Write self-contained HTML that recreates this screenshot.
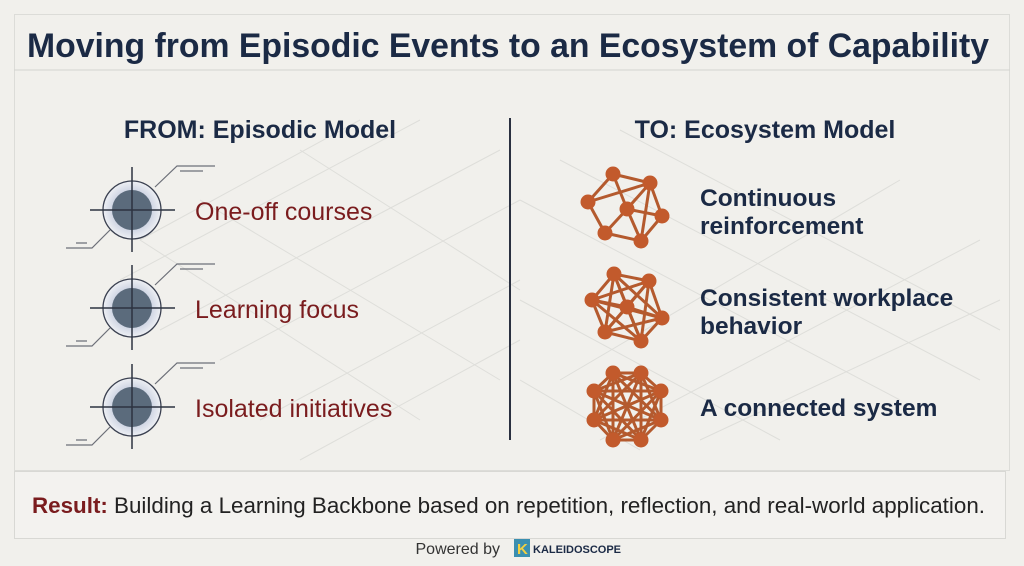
<!DOCTYPE html>
<html><head><meta charset="utf-8"><style>
html,body{margin:0;padding:0;width:1024px;height:566px;overflow:hidden;background:#f1f0ec;font-family:"Liberation Sans",sans-serif}
svg{position:absolute;left:0;top:0}
</style></head><body>
<svg width="1024" height="566" viewBox="0 0 1024 566" xmlns="http://www.w3.org/2000/svg">
<defs>
<radialGradient id="g" cx="0.5" cy="0.5" r="0.5"><stop offset="0.6" stop-color="#c8cfe0"/><stop offset="1" stop-color="#eef0f4"/></radialGradient>
</defs>
<rect x="0" y="0" width="1024" height="566" fill="#f1f0ec"/>
<g stroke="#dedeDA" stroke-width="1" fill="none">
<path d="M120 280 L420 120 M160 330 L500 150 M220 360 L520 200 M260 420 L520 280 M140 240 L360 120 M300 460 L520 340 M520 200 L900 400 M560 160 L980 380 M620 130 L1000 330 M520 300 L780 440 M520 380 L640 450"/>
<path d="M140 240 L420 420 M200 200 L500 380 M300 150 L520 290 M560 380 L900 180 M600 440 L980 240 M700 440 L1000 300"/>
</g>
<rect x="14.5" y="14.5" width="995" height="456" fill="none" stroke="#dcdcd8"/>
<line x1="14" y1="70" x2="1010" y2="70" stroke="#d4d4d0"/>
<text x="27" y="57" font-size="34" font-weight="bold" fill="#1b2a45" textLength="962" lengthAdjust="spacingAndGlyphs">Moving from Episodic Events to an Ecosystem of Capability</text>
<text x="260" y="138" text-anchor="middle" font-size="25" font-weight="bold" fill="#1b2a45">FROM: Episodic Model</text>
<text x="765" y="138" text-anchor="middle" font-size="25" font-weight="bold" fill="#1b2a45">TO: Ecosystem Model</text>
<line x1="510" y1="118" x2="510" y2="440" stroke="#2a3040" stroke-width="2"/>
<g id="ic">
<g stroke="#6c6f78" stroke-width="1.2" fill="none">
<path d="M155 187 L177 166 L215 166 M180 171 L203 171"/>
<path d="M110 230 L92 248 L66 248 M87 243 L76 243"/>
</g>
<circle cx="132" cy="210" r="29" fill="url(#g)" stroke="#3a4050" stroke-width="1.3"/>
<circle cx="132" cy="210" r="20" fill="#5b6b7c"/>
<g stroke="#2c3340" stroke-width="1.5"><line x1="132" y1="167" x2="132" y2="252"/><line x1="90" y1="210" x2="175" y2="210"/></g>
</g>
<use href="#ic" y="98"/>
<use href="#ic" y="197"/>
<g font-size="25" fill="#7a1c1e">
<text x="195" y="220">One-off courses</text>
<text x="195" y="318">Learning focus</text>
<text x="195" y="417">Isolated initiatives</text>
</g>
<g font-size="24.5" font-weight="bold" fill="#1b2a45">
<text x="700" y="206">Continuous</text>
<text x="700" y="234">reinforcement</text>
<text x="700" y="306">Consistent workplace</text>
<text x="700" y="334">behavior</text>
<text x="700" y="416">A connected system</text>
</g>
<g id="nets" stroke="#b45a2e" stroke-width="3" fill="#c25a2c"></g>
<rect x="14.5" y="471.5" width="991" height="67" fill="#f3f2ef" stroke="#d8d8d4"/>
<text x="32" y="513" font-size="22" fill="#222" textLength="953" lengthAdjust="spacingAndGlyphs"><tspan font-weight="bold" fill="#7a1c1e">Result:</tspan> Building a Learning Backbone based on repetition, reflection, and real-world application.</text>
<text x="500" y="554" text-anchor="end" font-size="16" fill="#333">Powered by</text>
<rect x="514" y="539" width="16" height="18" fill="#3b8fb0"/>
<text x="517" y="554" font-size="15" font-weight="bold" fill="#f4d040">K</text>
<text x="533" y="553" font-size="11" font-weight="bold" fill="#1b2a45">KALEIDOSCOPE</text>
</svg>
<script>
var g=document.getElementById('nets'),ns='http://www.w3.org/2000/svg';
function L(a,b){var l=document.createElementNS(ns,'line');l.setAttribute('x1',a[0]);l.setAttribute('y1',a[1]);l.setAttribute('x2',b[0]);l.setAttribute('y2',b[1]);g.appendChild(l);}
function C(p){var c=document.createElementNS(ns,'circle');c.setAttribute('cx',p[0]);c.setAttribute('cy',p[1]);c.setAttribute('r',7.5);c.setAttribute('stroke','none');g.appendChild(c);}
var n1=[[613,174],[650,183],[588,202],[627,209],[662,216],[605,233],[641,241]];
[[0,1],[0,2],[0,3],[1,3],[1,4],[2,5],[5,6],[4,6],[2,1],[3,6],[3,5],[1,6],[3,4]].forEach(function(e){L(n1[e[0]],n1[e[1]]);});
n1.forEach(C);
var n2=[[614,274],[649,281],[592,300],[662,318],[605,332],[641,341]],c2=[627,307];
for(var i=0;i<n2.length;i++){L(n2[i],c2);for(var j=i+1;j<n2.length;j++)L(n2[i],n2[j]);}
n2.forEach(C);C(c2);
var n3=[[613,373],[641,373],[661,391],[661,420],[641,440],[613,440],[594,420],[594,391]];
for(var i=0;i<n3.length;i++)for(var j=i+1;j<n3.length;j++)L(n3[i],n3[j]);
n3.forEach(C);
</script>
</body></html>
